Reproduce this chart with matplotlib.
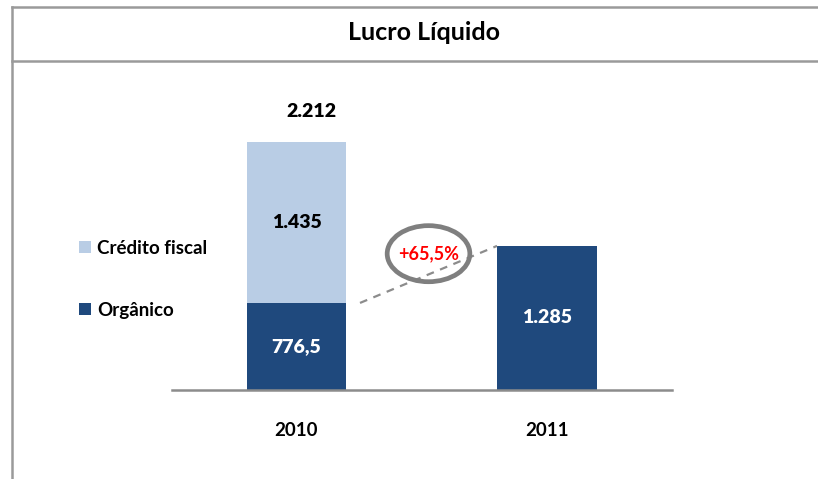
import matplotlib
matplotlib.use('Agg')
import matplotlib.pyplot as plt
from matplotlib.lines import Line2D
from matplotlib.patches import Ellipse

# data
years = ['2010', '2011']
organico = [776.5, 1285]
credito_fiscal = [1435, 0]
organico_labels = ['776,5', '1.285']
credito_labels = ['1.435', '']

dark_blue = '#1F497D'
light_blue = '#B9CDE5'
frame_gray = '#9A9A9A'

plt.rcParams['font.family'] = ['Lato', 'DejaVu Sans']

W, H = 818, 479
fig = plt.figure(figsize=(W / 100, H / 100), dpi=100)


def fx(px):
    return px / W


def fy(py):
    return 1 - py / H


# outer frame and title box
fig.add_artist(Line2D([fx(12), fx(12)], [fy(7), 0], color=frame_gray, lw=1.8))
fig.add_artist(Line2D([fx(12), 1], [fy(7), fy(7)], color=frame_gray, lw=1.8))
fig.add_artist(Line2D([fx(12), 1], [fy(61), fy(61)], color=frame_gray, lw=1.8))
fig.text(fx(424), fy(33), 'Lucro Líquido', ha='center', va='center',
         fontsize=18, fontweight='bold', color='black')

# plot area: baseline at y=390px, x from 172 to 672px
ax = fig.add_axes([fx(172), fy(390), fx(500), (390 - 70) / H])
x = [0, 1]
bw = 0.399
b1 = ax.bar(x, organico, width=bw, color=dark_blue, label='Orgânico')
b2 = ax.bar(x, credito_fiscal, width=bw, bottom=organico, color=light_blue, label='Crédito fiscal')
ax.set_xlim(-0.497, 1.499)
ax.set_ylim(0, 2854)

for sp in ['top', 'right', 'left']:
    ax.spines[sp].set_visible(False)
ax.spines['bottom'].set_color('#8C8C8C')
ax.spines['bottom'].set_linewidth(1.8)
ax.set_yticks([])
ax.set_xticks(x)
ax.set_xticklabels(years, fontsize=13.5, fontweight='bold')
ax.tick_params(axis='x', length=0, pad=23)

# value labels
for i in x:
    ax.text(i, organico[i] / 2, organico_labels[i], ha='center', va='center',
            color='white', fontsize=14, fontweight='heavy')
    if credito_fiscal[i] > 0:
        ax.text(i, organico[i] + credito_fiscal[i] / 2, credito_labels[i], ha='center', va='center',
                color='black', fontsize=14, fontweight='heavy')
total_2010 = organico[0] + credito_fiscal[0]
ax.text(0.06, total_2010 + 270, f'{total_2010:,.0f}'.replace(',', '.'), ha='center', va='center',
        color='black', fontsize=14, fontweight='heavy')

# growth line and ellipse
x0 = bw / 2 + 0.054
x1 = 1 - bw / 2
ax.plot([x0, x1], [organico[0], organico[1]], ls=(0, (3.5, 3)), color='#8C8C8C', lw=1.6)
growth = (organico[1] / organico[0] - 1) * 100
cx = (x0 + x1) / 2
cy = (organico[0] + organico[1]) / 2 + 185
ax.add_patch(Ellipse((cx, cy), 0.33, 500, facecolor='none', edgecolor='#7F7F7F', lw=3.4, zorder=4))
ax.text(cx, cy, f'+{growth:.1f}%'.replace('.', ','), ha='center', va='center',
        color='#FF0000', fontsize=13, fontweight='bold', zorder=5)

# legend to the left
fig.legend(handles=[b2, b1], labels=['Crédito fiscal', 'Orgânico'],
           loc='upper left', bbox_to_anchor=(fx(62), fy(223)), frameon=False,
           handlelength=0.62, handleheight=0.62, handletextpad=0.35,
           labelspacing=2.4, prop={'weight': 'bold', 'size': 13.5})

fig.savefig('out.png', dpi=100)
